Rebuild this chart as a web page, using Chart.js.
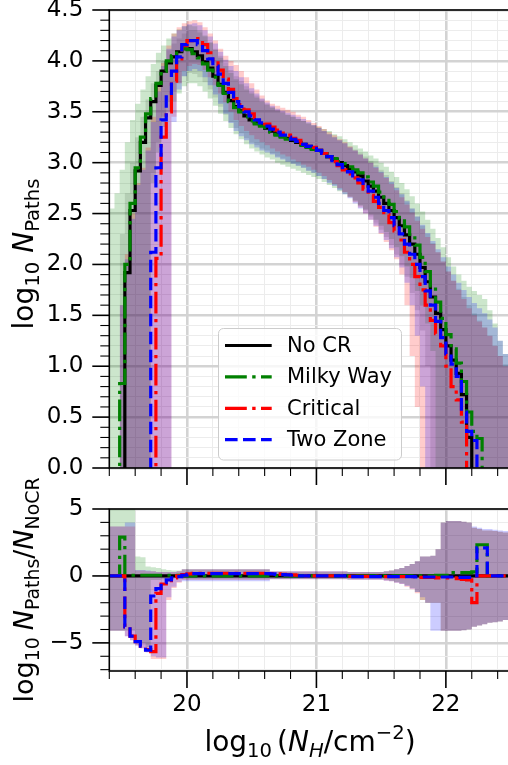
<!DOCTYPE html>
<html>
<head>
<meta charset="utf-8">
<title>N_Paths vs N_H</title>
<script src="https://cdn.jsdelivr.net/npm/chart.js@4.4.0/dist/chart.umd.min.js"></script>
<style>
  html, body { margin: 0; padding: 0; background: #fff; overflow: hidden; }
  #wrap { position: relative; width: 508px; height: 765px; overflow: hidden; }
  #topCanvas { position: absolute; left: 0; top: 0; }
  #bottomCanvas { position: absolute; left: 0; top: 460px; }
</style>
</head>
<body>
<div id="wrap">
  <canvas id="topCanvas" width="512" height="490"></canvas>
  <canvas id="bottomCanvas" width="512" height="305"></canvas>
</div>
<script>
// histogram bin edges in log10(N_H / cm^-2), 0.04 dex wide
const binEdges = [
  19.40, 19.44, 19.48, 19.52, 19.56, 19.60, 19.64, 19.68, 19.72, 19.76,
  19.80, 19.84, 19.88, 19.92, 19.96, 20.00, 20.04, 20.08, 20.12, 20.16,
  20.20, 20.24, 20.28, 20.32, 20.36, 20.40, 20.44, 20.48, 20.52, 20.56,
  20.60, 20.64, 20.68, 20.72, 20.76, 20.80, 20.84, 20.88, 20.92, 20.96,
  21.00, 21.04, 21.08, 21.12, 21.16, 21.20, 21.24, 21.28, 21.32, 21.36,
  21.40, 21.44, 21.48, 21.52, 21.56, 21.60, 21.64, 21.68, 21.72, 21.76,
  21.80, 21.84, 21.88, 21.92, 21.96, 22.00, 22.04, 22.08, 22.12, 22.16,
  22.20, 22.24, 22.28, 22.32, 22.36, 22.40, 22.44, 22.48, 22.52
];

const seriesNames = ['No CR', 'Milky Way', 'Critical', 'Two Zone'];

// ---- log10 N_Paths per bin (null = empty bin) ----
const noCR = [
  null, null, null, 1.92, 2.53, 2.92, 3.2, 3.44, 3.6, 3.76,
  3.9, 3.98, 4.04, 4.09, 4.12, 4.12, 4.09, 4.05, 3.99, 3.93,
  3.85, 3.77, 3.69, 3.61, 3.55, 3.51, 3.46, 3.42, 3.39, 3.37,
  3.34, 3.31, 3.28, 3.26, 3.24, 3.22, 3.2, 3.18, 3.16, 3.14,
  3.12, 3.09, 3.06, 3.03, 3.0, 2.97, 2.94, 2.91, 2.87, 2.82,
  2.77, 2.72, 2.66, 2.6, 2.53, 2.46, 2.38, 2.29, 2.2, 2.1,
  1.97, 1.83, 1.68, 1.52, 1.36, 1.2, 1.06, 0.93, 0.72, 0.3,
  null, null, null, null, null, null, null, null
];
const milkyWay = [
  null, null, 0.83, 2.0, 2.6, 2.95, 3.25, 3.48, 3.63, 3.78,
  3.9, 4.0, 4.05, 4.1, 4.12, 4.11, 4.07, 4.03, 3.97, 3.91,
  3.84, 3.76, 3.68, 3.6, 3.54, 3.5, 3.45, 3.41, 3.38, 3.36,
  3.33, 3.3, 3.27, 3.25, 3.23, 3.21, 3.19, 3.17, 3.15, 3.13,
  3.11, 3.09, 3.06, 3.04, 3.01, 2.99, 2.96, 2.93, 2.9, 2.86,
  2.81, 2.77, 2.71, 2.66, 2.59, 2.52, 2.45, 2.37, 2.28, 2.19,
  2.07, 1.93, 1.79, 1.63, 1.47, 1.31, 1.17, 1.03, 0.85, 0.55,
  0.36, 0.29, null, null, null, null, null, null
];
const critical = [
  null, null, null, null, null, null, null, null, null, 2.06,
  3.25, 3.5, 3.8, 4.02, 4.15, 4.2, 4.22, 4.22, 4.16, 4.08,
  4.0, 3.91, 3.82, 3.72, 3.63, 3.57, 3.52, 3.48, 3.44, 3.41,
  3.38, 3.35, 3.32, 3.29, 3.27, 3.24, 3.22, 3.19, 3.17, 3.15,
  3.12, 3.09, 3.05, 3.01, 2.97, 2.93, 2.89, 2.85, 2.8, 2.74,
  2.68, 2.62, 2.56, 2.49, 2.41, 2.33, 2.24, 2.12, 2.0, 1.88,
  1.75, 1.6, 1.45, 1.32, 1.2, 1.0, 0.8, 0.67, 0.45, null,
  null, null, null, null, null, null, null, null
];
const twoZone = [
  null, null, null, null, null, null, null, null, 2.12, 2.95,
  3.42, 3.68, 3.9, 4.04, 4.16, 4.2, 4.2, 4.16, 4.1, 4.02,
  3.95, 3.87, 3.78, 3.69, 3.6, 3.55, 3.5, 3.46, 3.42, 3.39,
  3.36, 3.33, 3.3, 3.27, 3.25, 3.23, 3.21, 3.18, 3.16, 3.14,
  3.12, 3.09, 3.06, 3.02, 2.98, 2.95, 2.91, 2.87, 2.83, 2.78,
  2.72, 2.66, 2.6, 2.53, 2.46, 2.38, 2.3, 2.2, 2.1, 2.0,
  1.88, 1.74, 1.6, 1.44, 1.28, 1.12, 1.02, 0.9, 0.55, 0.36,
  0.27, null, null, null, null, null, null, null
];

// ---- spread bands (low / high) ----
const noCrLo = [
  null, null, 0, 0, 0, 0, 0, 0, 2.9, 3.2,
  3.45, 3.6, 3.7, 3.78, 3.85, 3.88, 3.87, 3.84, 3.79, 3.72,
  3.64, 3.55, 3.47, 3.4, 3.34, 3.29, 3.24, 3.2, 3.17, 3.14,
  3.12, 3.09, 3.06, 3.04, 3.01, 2.99, 2.97, 2.95, 2.92, 2.9,
  2.87, 2.84, 2.81, 2.78, 2.74, 2.71, 2.67, 2.63, 2.58, 2.53,
  2.47, 2.41, 2.34, 2.27, 2.19, 2.1, 2.0, 1.88, 1.72, 1.55,
  1.35, 1.0, 0, 0, 0, 0, 0, 0, 0, 0,
  0, 0, 0, 0, 0, 0, 0, 0
];
const noCrHi = [
  null, null, 2.3, 2.7, 3.0, 3.25, 3.45, 3.62, 3.78, 3.9,
  4.0, 4.1, 4.17, 4.22, 4.27, 4.3, 4.3, 4.28, 4.24, 4.18,
  4.12, 4.05, 3.98, 3.91, 3.85, 3.8, 3.75, 3.7, 3.66, 3.62,
  3.58, 3.55, 3.52, 3.5, 3.47, 3.45, 3.43, 3.41, 3.38, 3.36,
  3.34, 3.31, 3.28, 3.25, 3.22, 3.19, 3.16, 3.13, 3.1, 3.06,
  3.02, 2.98, 2.93, 2.88, 2.82, 2.76, 2.7, 2.63, 2.55, 2.47,
  2.38, 2.3, 2.21, 2.12, 2.03, 1.93, 1.84, 1.76, 1.68, 1.6,
  1.52, 1.45, 1.38, 1.3, 1.2, 1.1, 1.02, 0.95
];
const mwLo = [
  0, 0, 0, 0, 0, 0, 0, 0, 2.8, 3.1,
  3.35, 3.5, 3.6, 3.68, 3.75, 3.78, 3.78, 3.75, 3.7, 3.63,
  3.56, 3.48, 3.41, 3.34, 3.28, 3.23, 3.18, 3.14, 3.11, 3.08,
  3.05, 3.03, 3.0, 2.98, 2.96, 2.94, 2.92, 2.9, 2.88, 2.86,
  2.84, 2.81, 2.78, 2.75, 2.72, 2.69, 2.66, 2.62, 2.58, 2.54,
  2.49, 2.44, 2.38, 2.32, 2.25, 2.17, 2.08, 1.98, 1.87, 1.74,
  1.6, 1.42, 1.15, 0, 0, 0, 0, 0, 0, 0,
  0, 0, 0, 0, 0, 0, 0, 0
];
const mwHi = [
  2.55, 2.7, 2.93, 3.2, 3.42, 3.58, 3.72, 3.85, 3.97, 4.08,
  4.15, 4.22, 4.27, 4.31, 4.34, 4.35, 4.34, 4.3, 4.25, 4.18,
  4.11, 4.03, 3.95, 3.88, 3.82, 3.77, 3.72, 3.68, 3.64, 3.6,
  3.57, 3.54, 3.51, 3.49, 3.47, 3.45, 3.43, 3.41, 3.39, 3.37,
  3.35, 3.33, 3.31, 3.28, 3.26, 3.23, 3.2, 3.17, 3.14, 3.11,
  3.07, 3.04, 3.0, 2.96, 2.91, 2.86, 2.8, 2.74, 2.67, 2.6,
  2.52, 2.44, 2.35, 2.26, 2.17, 2.07, 1.98, 1.9, 1.84, 1.78,
  1.74, 1.7, 1.66, 1.55, 1.42, 1.25, 1.12, 1.05
];
const critLo = [
  null, null, 0, 0, 0, 0, 0, 0, 0, 0,
  0, 0, 3.45, 3.78, 3.9, 3.95, 3.97, 3.96, 3.91, 3.84,
  3.76, 3.68, 3.59, 3.5, 3.42, 3.36, 3.31, 3.27, 3.23, 3.2,
  3.17, 3.14, 3.11, 3.08, 3.06, 3.03, 3.01, 2.98, 2.96, 2.93,
  2.9, 2.87, 2.83, 2.79, 2.75, 2.71, 2.66, 2.61, 2.56, 2.5,
  2.44, 2.37, 2.3, 2.22, 2.14, 2.05, 1.9, 1.6, 1.1, 0.6,
  0, 0, 0, 0, 0, 0, 0, 0, 0, 0,
  0, 0, 0, 0, 0, 0, 0, 0
];
const critHi = [
  null, null, 1.6, 2.1, 2.5, 2.8, 2.95, 3.15, 3.45, 3.75,
  3.98, 4.15, 4.27, 4.33, 4.37, 4.39, 4.4, 4.38, 4.33, 4.27,
  4.2, 4.12, 4.05, 4.0, 3.96, 3.9, 3.84, 3.78, 3.72, 3.66,
  3.61, 3.58, 3.56, 3.54, 3.52, 3.5, 3.47, 3.45, 3.42, 3.39,
  3.36, 3.33, 3.3, 3.27, 3.23, 3.2, 3.16, 3.12, 3.08, 3.04,
  3.0, 2.95, 2.9, 2.85, 2.79, 2.73, 2.66, 2.59, 2.51, 2.43,
  2.35, 2.27, 2.2, 2.12, 2.03, 1.93, 1.84, 1.75, 1.66, 1.57,
  1.5, 1.44, 1.38, 1.3, 1.2, 1.1, 1.0, 0.95
];
const twoLo = [
  null, null, 0, 0, 0, 0, 0, 0, 0, 0,
  0, 0, 3.4, 3.72, 3.85, 3.9, 3.92, 3.9, 3.84, 3.76,
  3.67, 3.58, 3.48, 3.39, 3.31, 3.26, 3.22, 3.18, 3.15, 3.12,
  3.1, 3.08, 3.05, 3.03, 3.01, 2.99, 2.97, 2.95, 2.92, 2.9,
  2.87, 2.84, 2.8, 2.77, 2.73, 2.69, 2.65, 2.6, 2.55, 2.5,
  2.44, 2.38, 2.31, 2.24, 2.16, 2.07, 1.97, 1.82, 1.6, 1.3,
  0.8, 0, 0, 0, 0, 0, 0, 0, 0, 0,
  0, 0, 0, 0, 0, 0, 0, 0
];
const twoHi = [
  null, null, 1.6, 2.05, 2.45, 2.78, 2.93, 3.12, 3.4, 3.7,
  3.95, 4.12, 4.24, 4.3, 4.34, 4.36, 4.37, 4.35, 4.3, 4.24,
  4.17, 4.09, 4.01, 3.95, 3.9, 3.84, 3.78, 3.73, 3.68, 3.63,
  3.59, 3.56, 3.53, 3.51, 3.49, 3.47, 3.45, 3.43, 3.4, 3.37,
  3.34, 3.31, 3.28, 3.25, 3.22, 3.19, 3.15, 3.12, 3.08, 3.04,
  3.0, 2.96, 2.91, 2.86, 2.81, 2.75, 2.69, 2.62, 2.55, 2.47,
  2.39, 2.31, 2.23, 2.15, 2.07, 1.98, 1.9, 1.82, 1.75, 1.68,
  1.62, 1.57, 1.52, 1.46, 1.38, 1.25, 1.12, 1.06
];

// ---- log10 (N_Paths / N_NoCR) per bin ----
const ratioNoCR = [
  0, 0, 0, 0, 0, 0, 0, 0, 0, 0,
  0, 0, 0, 0, 0, 0, 0, 0, 0, 0,
  0, 0, 0, 0, 0, 0, 0, 0, 0, 0,
  0, 0, 0, 0, 0, 0, 0, 0, 0, 0,
  0, 0, 0, 0, 0, 0, 0, 0, 0, 0,
  0, 0, 0, 0, 0, 0, 0, 0, 0, 0,
  0, 0, 0, 0, 0, 0, 0, 0, 0, 0,
  0, 0, 0, 0, 0, 0, 0, 0
];
const ratioMW = [
  0, 0, 2.9, 0.05, 0.05, 0.05, 0.05, 0.05, 0.05, 0.05,
  0.05, 0.05, 0.05, 0.05, 0, 0, 0, 0, 0, 0,
  0, 0, 0, 0, 0, 0, 0, 0, 0, 0,
  0, 0, 0, 0, 0, 0, 0, 0, 0, 0,
  0, 0, 0, 0, 0, 0, 0, 0, 0, 0,
  0, 0, 0, 0, 0, 0, 0, 0, 0, 0,
  0, 0, 0, 0.05, 0.05, 0.05, 0.25, 0.25, 0.25, 0.25,
  0.3, 2.33, 2.33, 0, 0, 0, 0, 0
];
const ratioCrit = [
  0, 0, 0, -3.8, -4.5, -4.9, -5.25, -5.5, -5.65, -1.3,
  -0.6, -0.35, -0.15, 0, 0.1, 0.15, 0.2, 0.2, 0.2, 0.2,
  0.2, 0.2, 0.2, 0.2, 0.2, 0.2, 0.2, 0.2, 0.2, 0.2,
  0.2, 0.18, 0.15, 0.12, 0.1, 0.08, 0.05, 0, 0, 0,
  0, 0, 0, 0, 0, 0, -0.03, -0.03, -0.03, -0.03,
  -0.03, -0.03, -0.03, -0.05, -0.05, -0.05, -0.05, -0.05, -0.05, -0.1,
  -0.1, -0.1, -0.1, -0.15, -0.15, -0.15, -0.15, -0.2, -0.25, -0.3,
  -2.0, 0, 0, 0, 0, 0, 0, 0
];
const ratioTwo = [
  0, 0, 0, -3.8, -4.5, -4.9, -5.25, -5.55, -1.5, -0.95,
  -0.5, -0.3, -0.15, -0.05, 0.05, 0.12, 0.18, 0.18, 0.18, 0.18,
  0.18, 0.18, 0.18, 0.18, 0.18, 0.18, 0.18, 0.18, 0.18, 0.18,
  0.18, 0.15, 0.12, 0.1, 0.08, 0.05, 0, 0, 0, 0,
  0, 0, 0, 0, 0, 0, -0.05, -0.05, -0.05, -0.05,
  -0.05, -0.05, -0.05, -0.05, -0.05, -0.05, -0.05, -0.05, -0.05, -0.08,
  -0.08, -0.08, -0.08, -0.08, -0.08, -0.08, -0.08, -0.1, -0.1, -0.1,
  0, 2.1, 2.1, 0, 0, 0, 0, 0
];

// ---- ratio spread bands ----
const ratioMwLo = [
  -4.1, -4.1, -4.1, -4.1, -4.1, -4.8, -5.0, -5.3, -0.3, -0.3,
  -0.25, -0.25, -0.2, -0.2, -0.25, -0.25, -0.25, -0.25, -0.25, -0.25,
  -0.25, -0.25, -0.25, -0.25, -0.25, -0.25, -0.25, -0.25, -0.25, -0.25,
  -0.25, -0.22, -0.22, -0.22, -0.22, -0.22, -0.22, -0.22, -0.22, -0.22,
  -0.22, -0.22, -0.22, -0.22, -0.22, -0.22, -0.25, -0.25, -0.25, -0.25,
  -0.25, -0.25, -0.25, -0.3, -0.35, -0.45, -0.55, -0.7, -0.9, -1.2,
  -1.8, -2.0, -2.0, -2.0, -4.1, -4.1, -4.1, -4.1, -4.05, -4.0,
  -3.8, -3.7, -3.6, -3.5, -3.45, -3.4, -3.3, -3.2
];
const ratioMwHi = [
  5.0, 5.0, 5.0, 5.0, 5.0, 1.45, 1.4, 0.7, 0.65, 0.6,
  0.5, 0.45, 0.4, 0.4, 0.5, 0.5, 0.5, 0.5, 0.5, 0.5,
  0.5, 0.5, 0.5, 0.5, 0.5, 0.5, 0.5, 0.5, 0.5, 0.5,
  0.5, 0.32, 0.32, 0.32, 0.32, 0.32, 0.32, 0.32, 0.32, 0.32,
  0.32, 0.32, 0.32, 0.32, 0.32, 0.32, 0.3, 0.3, 0.3, 0.3,
  0.3, 0.3, 0.3, 0.35, 0.4, 0.5, 0.6, 0.75, 0.9, 1.1,
  1.45, 1.45, 1.5, 2.0, 4.0, 4.1, 4.1, 4.1, 4.05, 4.0,
  3.6, 3.5, 3.4, 3.4, 3.35, 3.3, 3.25, 3.2
];
const ratioCritLo = [
  -4.1, -4.1, -4.1, -4.5, -4.8, -5.2, -5.4, -5.7, -6.2, -6.2,
  -6.2, -1.8, -0.9, -0.5, -0.3, -0.3, -0.3, -0.3, -0.3, -0.3,
  -0.3, -0.3, -0.3, -0.3, -0.3, -0.3, -0.3, -0.3, -0.3, -0.3,
  -0.3, -0.25, -0.25, -0.25, -0.25, -0.25, -0.25, -0.25, -0.25, -0.25,
  -0.25, -0.25, -0.25, -0.25, -0.25, -0.25, -0.28, -0.28, -0.28, -0.28,
  -0.28, -0.28, -0.28, -0.35, -0.4, -0.5, -0.6, -0.8, -1.0, -1.3,
  -1.8, -2.0, -2.0, -2.0, -4.1, -4.1, -4.1, -4.1, -4.05, -4.0,
  -3.8, -3.7, -3.6, -3.5, -3.45, -3.4, -3.3, -3.2
];
const ratioCritHi = [
  3.7, 3.7, 3.7, 3.7, 3.7, 0.4, 0.4, 0.35, 0.35, 0.3,
  0.3, 0.3, 0.3, 0.35, 0.5, 0.5, 0.5, 0.5, 0.5, 0.5,
  0.5, 0.5, 0.5, 0.5, 0.5, 0.5, 0.5, 0.5, 0.5, 0.5,
  0.5, 0.35, 0.35, 0.35, 0.35, 0.35, 0.35, 0.35, 0.35, 0.35,
  0.35, 0.35, 0.35, 0.35, 0.35, 0.35, 0.3, 0.3, 0.3, 0.3,
  0.3, 0.3, 0.3, 0.35, 0.4, 0.5, 0.6, 0.75, 0.9, 1.1,
  1.45, 1.45, 1.5, 2.0, 4.0, 4.1, 4.1, 4.1, 4.05, 4.0,
  3.6, 3.5, 3.4, 3.4, 3.35, 3.3, 3.25, 3.2
];
const ratioTwoLo = [
  -4.1, -4.1, -4.1, -4.5, -4.8, -5.2, -5.4, -5.7, -6.0, -6.1,
  -6.1, -1.6, -0.8, -0.45, -0.4, -0.4, -0.4, -0.4, -0.4, -0.4,
  -0.4, -0.4, -0.4, -0.4, -0.4, -0.4, -0.4, -0.4, -0.4, -0.4,
  -0.4, -0.25, -0.25, -0.25, -0.25, -0.25, -0.25, -0.25, -0.25, -0.25,
  -0.25, -0.25, -0.25, -0.25, -0.25, -0.25, -0.28, -0.28, -0.28, -0.28,
  -0.28, -0.28, -0.28, -0.35, -0.4, -0.5, -0.6, -0.75, -0.95, -1.2,
  -1.6, -2.0, -4.1, -4.1, -4.1, -4.1, -4.1, -4.1, -4.05, -4.0,
  -3.8, -3.7, -3.6, -3.5, -3.45, -3.4, -3.3, -3.2
];
const ratioTwoHi = [
  3.7, 3.7, 3.7, 4.0, 4.0, 0.45, 0.45, 0.4, 0.35, 0.3,
  0.3, 0.3, 0.3, 0.35, 0.5, 0.5, 0.5, 0.5, 0.5, 0.5,
  0.5, 0.5, 0.5, 0.5, 0.5, 0.5, 0.5, 0.5, 0.5, 0.5,
  0.5, 0.35, 0.35, 0.35, 0.35, 0.35, 0.35, 0.35, 0.35, 0.35,
  0.35, 0.35, 0.35, 0.35, 0.35, 0.35, 0.3, 0.3, 0.3, 0.3,
  0.3, 0.3, 0.3, 0.35, 0.4, 0.5, 0.6, 0.75, 0.9, 1.1,
  1.45, 1.45, 1.5, 2.0, 4.0, 4.1, 4.1, 4.1, 4.05, 4.0,
  3.7, 3.6, 3.5, 3.5, 3.45, 3.4, 3.35, 3.35
];

// ---- ticks ----
const xTicks = [19.4, 19.6, 19.8, 20.0, 20.2, 20.4, 20.6, 20.8, 21.0, 21.2, 21.4, 21.6, 21.8, 22.0, 22.2, 22.4];
const xMajor = [20, 21, 22];
const xLabels = ['20', '21', '22'];
const topYTicks = [
  0, 0.1, 0.2, 0.3, 0.4, 0.5, 0.6, 0.7, 0.8, 0.9,
  1.0, 1.1, 1.2, 1.3, 1.4, 1.5, 1.6, 1.7, 1.8, 1.9,
  2.0, 2.1, 2.2, 2.3, 2.4, 2.5, 2.6, 2.7, 2.8, 2.9,
  3.0, 3.1, 3.2, 3.3, 3.4, 3.5, 3.6, 3.7, 3.8, 3.9,
  4.0, 4.1, 4.2, 4.3, 4.4, 4.5
];
const topYMajor = [0, 0.5, 1.0, 1.5, 2.0, 2.5, 3.0, 3.5, 4.0, 4.5];
const topYLabels = ['0.0', '0.5', '1.0', '1.5', '2.0', '2.5', '3.0', '3.5', '4.0', '4.5'];
const botYTicks = [-7, -6, -5, -4, -3, -2, -1, 0, 1, 2, 3, 4, 5];
const botYMajor = [-5, 0, 5];
const botYLabels = ['\u22125', '0', '5'];

// ---- styling ----
const FONT = '"DejaVu Sans"';
const LW = 3.2;
const DASHDOT = [21.8, 5.4, 3.4, 5.4];
const styles = [
  { color: '#000000', dash: [], band: 'rgba(0,0,0,0.12)' },
  { color: '#008000', dash: DASHDOT, band: 'rgba(0,128,0,0.2)' },
  { color: '#ff0000', dash: DASHDOT, band: 'rgba(255,0,0,0.2)' },
  { color: '#0000ff', dash: [12.6, 5.4], band: 'rgba(0,0,255,0.2)' }
];
const GRID_MAJOR = '#d3d3d3';
const GRID_MINOR = '#ececec';

Chart.defaults.font.family = FONT;

const near = (v, list) => list.some(m => Math.abs(m - v) < 1e-6);

// points at the left edge of each bin, closed at the right edge of the last one
function bandPoints(values) {
  const pts = [];
  let last = -1;
  values.forEach((v, i) => {
    if (v !== null) { pts.push({ x: binEdges[i], y: v }); last = i; }
  });
  pts.push({ x: binEdges[last + 1], y: values[last] });
  return pts;
}
function linePoints(values, floor) {
  const pts = values.map((v, i) => ({ x: binEdges[i], y: v === null ? floor : v }));
  const lastV = values[values.length - 1];
  pts.push({ x: binEdges[values.length], y: lastV === null ? floor : lastV });
  return pts;
}

// bands are painted in series order (first series at the bottom)
function addBand(sets, lo, hi, color, k) {
  const loIdx = sets.length;
  const order = 20 - k;
  sets.push({ data: bandPoints(lo), borderWidth: 0, pointRadius: 0, stepped: 'before', fill: false, order });
  sets.push({
    data: bandPoints(hi), borderWidth: 0, pointRadius: 0, stepped: 'before',
    backgroundColor: color, fill: { target: loIdx, above: color, below: color }, order
  });
}
function addLines(sets, series, floor) {
  series.forEach((vals, k) => {
    sets.push({
      data: linePoints(vals, floor), borderColor: styles[k].color, borderWidth: LW,
      borderDash: styles[k].dash, pointRadius: 0, stepped: 'before', fill: false,
      order: 3 - k
    });
  });
}

function gridOpts(majors) {
  return {
    drawTicks: false,
    color: c => (c.tick && near(c.tick.value, majors)) ? GRID_MAJOR : GRID_MINOR,
    lineWidth: c => (c.tick && near(c.tick.value, majors)) ? 2.6 : 1
  };
}
function xScale(showLabels, height) {
  return {
    type: 'linear', min: 19.4, max: 22.5,
    afterBuildTicks: s => { s.ticks = xTicks.map(v => ({ value: v })); },
    ticks: {
      display: showLabels, autoSkip: false, maxRotation: 0, padding: 20,
      font: { family: FONT, size: 23 }, color: '#000',
      callback: v => { const i = xMajor.findIndex(m => Math.abs(m - v) < 1e-6); return i >= 0 ? xLabels[i] : ''; }
    },
    grid: gridOpts(xMajor),
    border: { display: false },
    afterFit: s => { s.height = height; s.paddingLeft = 0; s.paddingRight = 0; }
  };
}
function yScale(min, max, tickVals, majors, labels) {
  return {
    type: 'linear', min, max,
    afterBuildTicks: s => { s.ticks = tickVals.map(v => ({ value: v })); },
    ticks: {
      autoSkip: false, padding: 26, font: { family: FONT, size: 23 }, color: '#000',
      callback: v => { const i = majors.findIndex(m => Math.abs(m - v) < 1e-6); return i >= 0 ? labels[i] : ''; }
    },
    grid: gridOpts(majors),
    border: { display: false },
    afterFit: s => { s.width = 109.3; s.paddingTop = 0; s.paddingBottom = 0; }
  };
}

// label with sub/superscripts, centred on (x, y) baseline
function drawMath(ctx, parts, x, y, size, rotate) {
  ctx.save();
  ctx.translate(x, y);
  if (rotate) ctx.rotate(-Math.PI / 2);
  ctx.fillStyle = '#000';
  ctx.textBaseline = 'alphabetic';
  ctx.textAlign = 'left';
  const fontOf = p => `${p.it ? 'italic ' : ''}${(p.sub || p.sup) ? size * 0.7 : size}px ${FONT}`;
  const widths = parts.map(p => { ctx.font = fontOf(p); return ctx.measureText(p.t).width + (p.gap || 0); });
  let cx = -widths.reduce((a, b) => a + b, 0) / 2;
  parts.forEach((p, i) => {
    ctx.font = fontOf(p);
    const dy = p.sub ? size * 0.22 : p.sup ? -size * 0.42 : 0;
    ctx.fillText(p.t, cx, dy);
    cx += widths[i];
  });
  ctx.restore();
}

// ticks and spines on top of the data
function framePlugin(yTicks, yMajor, extra) {
  return {
    id: 'frame',
    afterDatasetsDraw(chart) {
      const { ctx, chartArea: a, scales } = chart;
      ctx.save();
      ctx.strokeStyle = '#000';
      xTicks.forEach(v => {
        const p = scales.x.getPixelForValue(v);
        const major = near(v, xMajor);
        ctx.lineWidth = major ? 1.6 : 1.1;
        ctx.beginPath(); ctx.moveTo(p, a.bottom); ctx.lineTo(p, a.bottom + (major ? 17 : 8)); ctx.stroke();
      });
      yTicks.forEach(v => {
        const p = scales.y.getPixelForValue(v);
        const major = near(v, yMajor);
        ctx.lineWidth = major ? 1.6 : 1.1;
        ctx.beginPath(); ctx.moveTo(a.left, p); ctx.lineTo(a.left - (major ? 17 : 9), p); ctx.stroke();
      });
      ctx.lineWidth = 1.6;
      ctx.strokeRect(a.left, a.top, a.right - a.left, a.bottom - a.top);
      ctx.restore();
    },
    afterDraw(chart) { extra(chart.ctx); }
  };
}

function drawLegend(ctx) {
  ctx.save();
  ctx.beginPath();
  ctx.roundRect(218.5, 328.5, 183, 131.5, 5);
  ctx.fillStyle = 'rgba(255,255,255,0.8)';
  ctx.fill();
  ctx.strokeStyle = '#cccccc';
  ctx.lineWidth = 1;
  ctx.stroke();
  seriesNames.forEach((name, i) => {
    const y = 345.5 + i * 31.4;
    ctx.strokeStyle = styles[i].color;
    ctx.lineWidth = LW;
    ctx.setLineDash(styles[i].dash);
    ctx.beginPath(); ctx.moveTo(225, y); ctx.lineTo(271.7, y); ctx.stroke();
    ctx.setLineDash([]);
    ctx.fillStyle = '#000';
    ctx.font = `21px ${FONT}`;
    ctx.textBaseline = 'middle';
    ctx.fillText(name, 287, y + 1);
  });
  ctx.restore();
}

// ---- upper panel: log10 N_Paths ----
const topSets = [];
addBand(topSets, noCrLo, noCrHi, styles[0].band, 0);
addBand(topSets, mwLo, mwHi, styles[1].band, 1);
addBand(topSets, critLo, critHi, styles[2].band, 2);
addBand(topSets, twoLo, twoHi, styles[3].band, 3);
addLines(topSets, [noCR, milkyWay, critical, twoZone], -0.5);

new Chart(document.getElementById('topCanvas'), {
  type: 'line',
  data: { datasets: topSets },
  options: {
    responsive: false, animation: false, devicePixelRatio: 1, events: [],
    layout: { padding: { left: 0, right: 1.4, top: 10, bottom: 0 } },
    plugins: { legend: { display: false }, tooltip: { enabled: false } },
    scales: {
      x: xScale(false, 22),
      y: yScale(0, 4.5, topYTicks, topYMajor, topYLabels)
    }
  },
  plugins: [framePlugin(topYTicks, topYMajor, ctx => {
    drawLegend(ctx);
    drawMath(ctx, [{ t: 'log' }, { t: '10', sub: true, gap: 9 }, { t: 'N', it: true }, { t: 'Paths', sub: true }], 33, 254, 28, true);
  })]
});

// ---- lower panel: ratio to No CR ----
const botSets = [];
addBand(botSets, ratioMwLo, ratioMwHi, styles[1].band, 1);
addBand(botSets, ratioCritLo, ratioCritHi, styles[2].band, 2);
addBand(botSets, ratioTwoLo, ratioTwoHi, styles[3].band, 3);
addLines(botSets, [ratioNoCR, ratioMW, ratioCrit, ratioTwo], -8);

new Chart(document.getElementById('bottomCanvas'), {
  type: 'line',
  data: { datasets: botSets },
  options: {
    responsive: false, animation: false, devicePixelRatio: 1, events: [],
    layout: { padding: { left: 0, right: 1.4, top: 49, bottom: 0 } },
    plugins: { legend: { display: false }, tooltip: { enabled: false } },
    scales: {
      x: xScale(true, 94),
      y: yScale(-7.1, 5, botYTicks, botYMajor, botYLabels)
    }
  },
  plugins: [framePlugin(botYTicks, botYMajor, ctx => {
    drawMath(ctx, [{ t: 'log' }, { t: '10', sub: true, gap: 7 }, { t: 'N', it: true }, { t: 'Paths', sub: true },
      { t: '/' }, { t: 'N', it: true }, { t: 'NoCR', sub: true }], 33, 130, 27, true);
    drawMath(ctx, [{ t: 'log' }, { t: '10', sub: true, gap: 5 }, { t: '(' }, { t: 'N', it: true }, { t: 'H', it: true, sub: true },
      { t: '/cm' }, { t: '\u22122', sup: true }, { t: ')' }], 310, 291, 28, false);
  })]
});
</script>
</body>
</html>
